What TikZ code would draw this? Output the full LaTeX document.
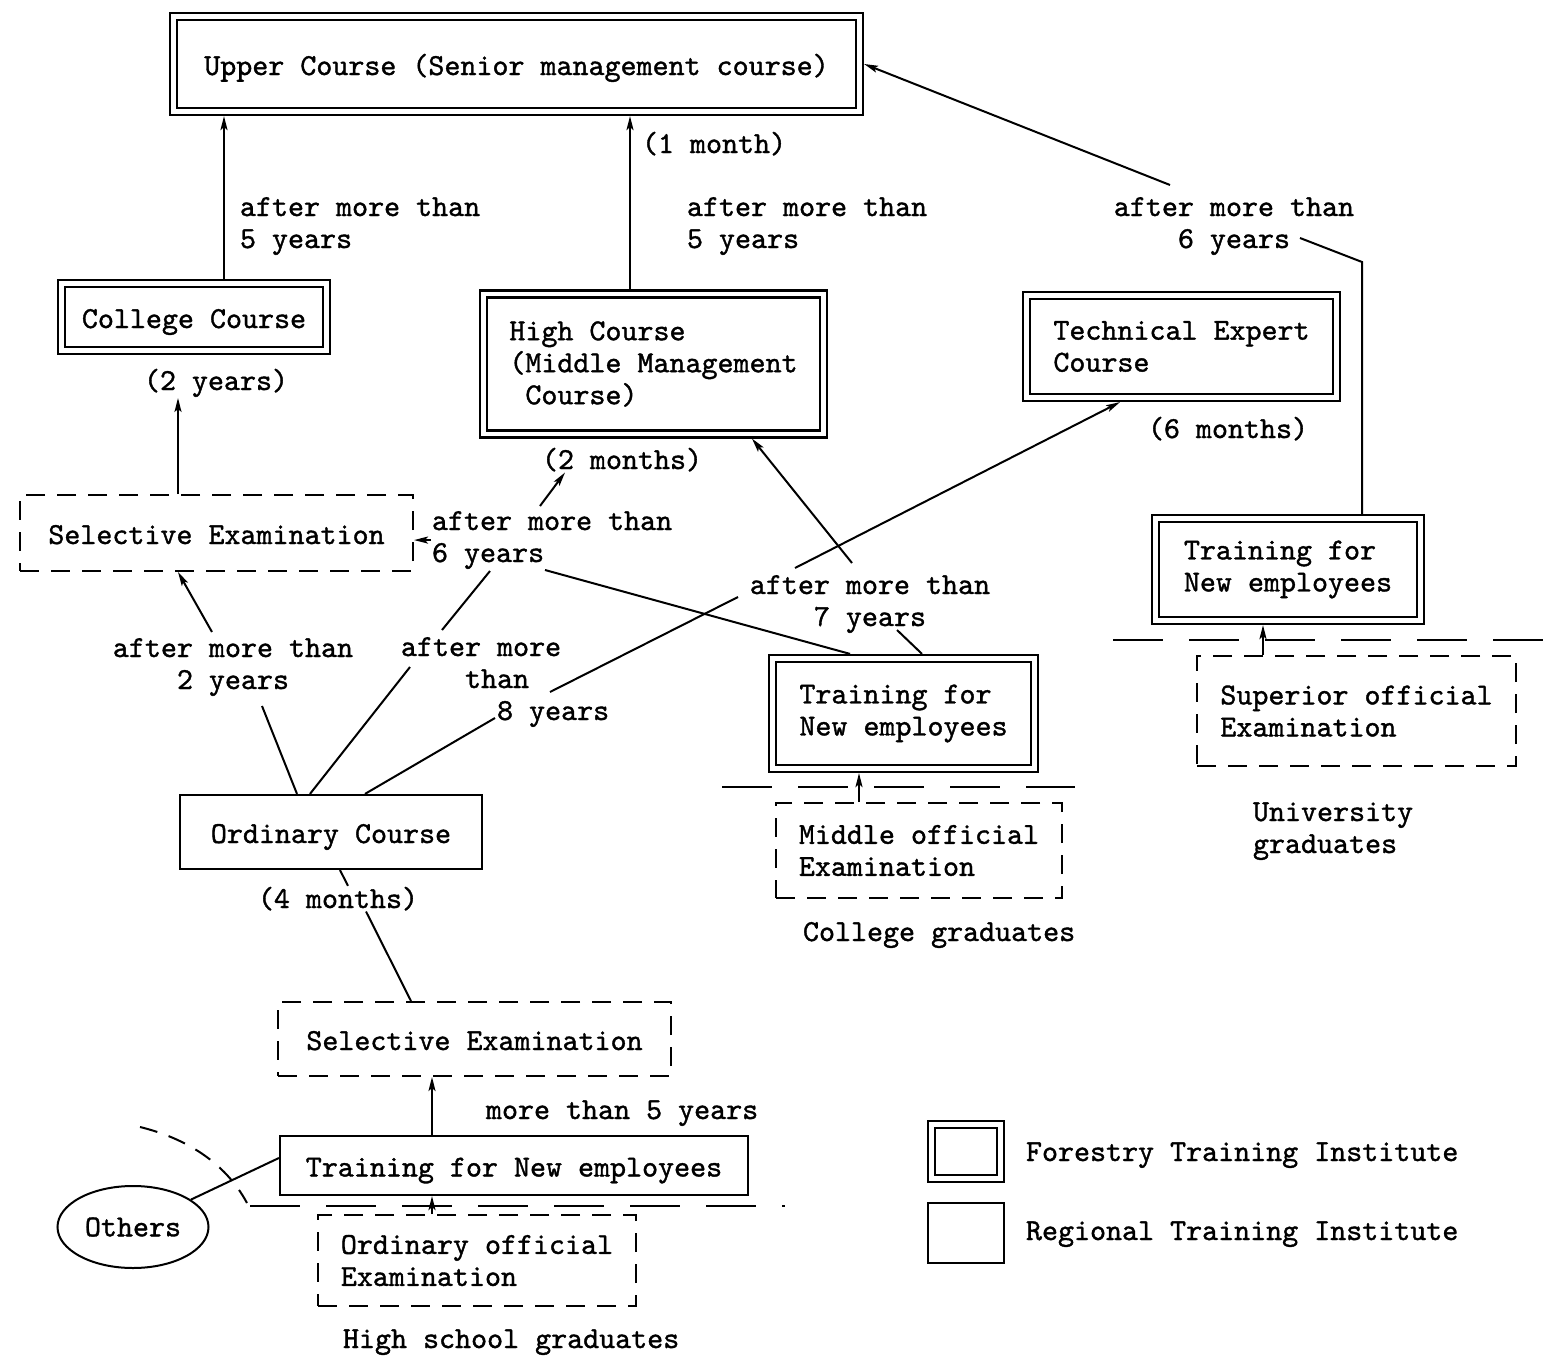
\documentclass[tikz,border=0pt]{standalone}
\usepackage{fontspec}
\usepackage{tikz}
\usetikzlibrary{arrows.meta,positioning,shapes.geometric,calc}
\newfontfamily\twfam[FakeBold=1.2]{lmmono10-regular.otf}
\newcommand\twfont{\fontsize{30.5}{32}\selectfont\twfam}
\tikzstyle{fti}=[draw,double,line width=2.2pt,double distance=4.8pt,inner sep=0pt,outer sep=4.6pt,font=\twfont,align=left]
\tikzstyle{rti}=[draw,line width=2.2pt,inner sep=0pt,font=\twfont,align=left]
\tikzstyle{exam}=[draw,line width=2pt,dash pattern=on 19pt off 12pt,inner sep=0pt,font=\twfont,align=left]
\tikzstyle{oneline}=[text height=26pt,text depth=4pt]
\tikzstyle{lbl}=[inner sep=0pt,font=\twfont]
\tikzstyle{cut}=[line width=2pt,dash pattern=on 50pt off 26pt]

\begin{document}
\begin{tikzpicture}[x=1pt,y=-1pt,line width=2pt,>={Stealth[length=14pt,width=7pt,inset=3pt]}]
\useasboundingbox (0,0) rectangle (1559,1357);
% courses
\node [fti,oneline,minimum width=686pt,minimum height=95pt] (upper) at (516.5,64) {Upper Course (Senior management course)};
\node [fti,oneline,minimum width=265pt,minimum height=67pt] (college) at (194,317) {College Course};
\node [fti,minimum width=340pt,minimum height=140pt] (high) at (653.5,364) {High Course\\(Middle Management\\\ Course)};
\node [fti,minimum width=310pt,minimum height=102pt] (tech) at (1181.5,346.5) {Technical Expert\\Course};
\node [fti,minimum width=265pt,minimum height=102pt] (newR) at (1288,569.5) {Training for\\New employees};
\node [fti,minimum width=262pt,minimum height=110pt] (newM) at (903.5,713.5) {Training for\\New employees};
\node [rti,oneline,minimum width=302pt,minimum height=74pt] (ordinary) at (331,832) {Ordinary Course};
\node [rti,oneline,minimum width=468pt,minimum height=59pt] (newL) at (514,1165.5) {Training for New employees};
\node [draw,ellipse,line width=2pt,minimum width=151pt,minimum height=82pt,inner sep=0pt,font=\twfont] (others) at (133,1227) {Others};
% examinations
\node [exam,oneline,minimum width=393pt,minimum height=76pt] (sel1) at (216.5,533) {Selective Examination};
\node [exam,oneline,minimum width=393pt,minimum height=74pt] (sel2) at (474.5,1039) {Selective Examination};
\node [exam,minimum width=319pt,minimum height=110pt] (superior) at (1356.5,711) {Superior official\\Examination};
\node [exam,minimum width=286pt,minimum height=95pt] (midoff) at (919,850.5) {Middle official\\Examination};
\node [exam,minimum width=318pt,minimum height=91pt] (ordoff) at (477,1260.5) {Ordinary official\\Examination};
% durations and labels
\node [lbl,anchor=base west] (onemonth) at (641,153) {(1 month)};
\node [lbl,anchor=base] (twoyears) at (216,390) {(2 years)};
\node [lbl,anchor=base] (twomonths) at (622,469) {(2 months)};
\node [lbl,anchor=base] (sixmonths) at (1228,438) {(6 months)};
\node [lbl,anchor=base] (fourmonths) at (338,908) {(4 months)};
\node [lbl,anchor=base west,align=left] (aftA) at (239,248) {after more than\\5 years};
\node [lbl,anchor=base west,align=left] (aftB) at (686,248) {after more than\\5 years};
\node [lbl,anchor=base,align=center] (aftC) at (1234,248) {after more than\\6 years};
\node [lbl,anchor=base west,align=left] (aftD) at (431,562) {after more than\\6 years};
\node [lbl,anchor=base,align=center] (aftE) at (870,626) {after more than\\7 years};
\node [lbl,anchor=base,align=center] (aftF) at (233,689) {after more than\\2 years};
\node [lbl,anchor=base west,align=left] (aftG) at (400,720) {after more\\\ \ \ \ than\\\ \ \ \ \ \ 8 years};
\node [lbl,anchor=base west] (aftH) at (485,1119) {more than 5 years};
\node [lbl,anchor=base west,align=left] (univ) at (1252,853) {University\\graduates};
\node [lbl,anchor=base west] (collgrad) at (802,941) {College graduates};
\node [lbl,anchor=base west] (highgrad) at (342,1348) {High school graduates};
% legend
\node [fti,minimum width=69pt,minimum height=54pt] (legF) at (966,1151.5) {};
\node [rti,minimum width=76pt,minimum height=60pt] (legR) at (966,1233) {};
\node [lbl,anchor=base west] (legFtext) at (1025,1161) {Forestry Training Institute};
\node [lbl,anchor=base west] (legRtext) at (1025,1240) {Regional Training Institute};
% bends and free ends
\coordinate (r1) at (1362,262);
\coordinate (r2) at (1300,238);
\coordinate (r3) at (1170,185);
\coordinate (o1) at (262,706);
\coordinate (o2) at (212,632);
\coordinate (o3) at (410,667);
\coordinate (o4) at (442,630);
\coordinate (o5) at (490,571);
\coordinate (o6) at (495,718);
\coordinate (o7) at (550,692);
\coordinate (o8) at (738,597);
\coordinate (o9) at (795,568);
\coordinate (m1) at (540,506);
\coordinate (m3) at (545,570);
\coordinate (m4) at (897,630);
\coordinate (m5) at (852,563);
% connectors
\draw[->] ([xshift=30pt]college.north) -- ([xshift=30pt]college.north |- upper.south);
\draw[->] ([xshift=-23.5pt]high.north) -- ([xshift=-23.5pt]high.north |- upper.south);
\draw (newR.north -| r1) -- (r1) -- (r2);
\draw[->] (r3) -- (upper.east);
\draw[->] ([xshift=-38.5pt]sel1.north) -- ([xshift=-38pt]twoyears.south);
\draw ([xshift=-34pt]ordinary.north) -- (o1);
\draw[->] (o2) -- ([xshift=-38.5pt]sel1.south);
\draw ([xshift=-21pt]ordinary.north) -- (o3);
\draw (o4) -- (o5);
\draw ([xshift=34pt]ordinary.north) -- (o6);
\draw (o7) -- (o8);
\draw[->] (o9) -- ([xshift=-61.5pt]tech.south);
\draw[->] (aftD.west) -- (sel1.east |- aftD.west);
\draw[->] (m1) -- ([xshift=-57pt]twomonths.south);
\draw (m3) -- ([xshift=-53.5pt]newM.north);
\draw ([xshift=18.5pt]newM.north) -- (m4);
\draw[->] (m5) -- ([xshift=98.5pt]high.south);
\draw ([xshift=9pt]ordinary.south) -- ([xshift=10pt]fourmonths.north);
\draw ([xshift=28pt]fourmonths.south) -- ([xshift=-63.5pt]sel2.north);
\draw[->] ([xshift=-82pt]newL.north) -- ([xshift=-82pt]newL.north |- sel2.south);
\draw[->] ([xshift=-45pt]ordoff.north) -- ([xshift=-45pt]ordoff.north |- newL.south);
\draw[->] ([xshift=-60pt]midoff.north) -- ([xshift=-60pt]midoff.north |- newM.south);
\draw[->] ([xshift=-93.5pt]superior.north) -- ([xshift=-93.5pt]superior.north |- newR.south);
\draw (others) -- ([yshift=7.5pt]newL.west);
% entry levels
\draw[cut] (1113,640) -- (1559,640);
\draw[cut] (722,787) -- (1075,787);
\draw[cut] (250,1206) -- (785,1206);
\draw[dash pattern=on 18pt off 12pt] (140,1127) .. controls (185,1138) and (225,1162) .. (247,1203);
\end{tikzpicture}
\end{document}
